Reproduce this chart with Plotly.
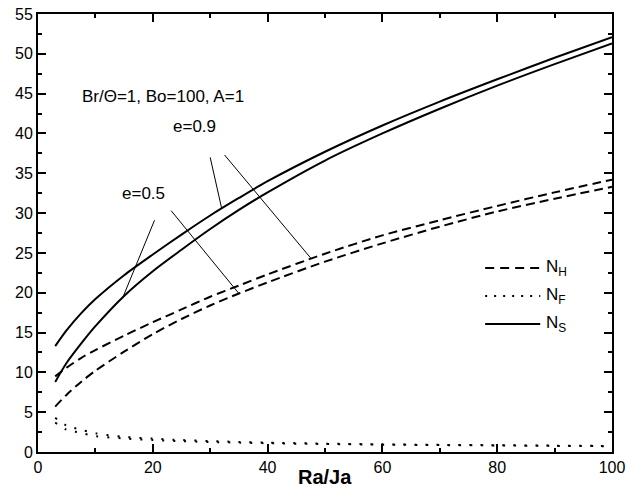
import numpy as np
import plotly.graph_objects as go

x = [3, 5, 7.5, 10, 15, 20, 25, 30, 35, 40, 50, 60, 70, 80, 90, 100]

ns_e09 = [13.3, 15.3, 17.4, 19.2, 22.2, 24.8, 27.3, 29.7, 31.9, 34.0, 37.7, 41.0, 44.0, 46.8, 49.5, 52.1]
ns_e05 = [8.8, 11.2, 13.6, 15.8, 19.6, 22.7, 25.4, 28.0, 30.4, 32.6, 36.6, 40.0, 43.1, 46.0, 48.7, 51.3]
nh_e09 = [9.5, 10.6, 11.8, 12.8, 14.6, 16.3, 17.9, 19.5, 20.9, 22.3, 24.9, 27.2, 29.1, 30.9, 32.6, 34.2]
nh_e05 = [5.7, 7.2, 8.8, 10.2, 12.6, 14.8, 16.7, 18.4, 19.9, 21.3, 23.9, 26.2, 28.3, 30.2, 31.8, 33.3]
nf_e09 = [4.3, 3.3, 2.8, 2.35, 1.9, 1.68, 1.5, 1.37, 1.27, 1.18, 1.05, 0.96, 0.9, 0.85, 0.8, 0.76]
nf_e05 = [3.7, 2.8, 2.4, 2.0, 1.7, 1.5, 1.36, 1.26, 1.18, 1.1, 1.0, 0.92, 0.87, 0.82, 0.77, 0.73]

x_ticks = [0, 20, 40, 60, 80, 100]
y_ticks = list(range(0, 60, 5))

legend_names = ["N<sub>H</sub>", "N<sub>F</sub>", "N<sub>S</sub>"]

DASH = "9px,5px"
DOT = "2px,9px"
FAM = "Liberation Sans, Arial, sans-serif"

fig = go.Figure()
series = [
    (nh_e05, DASH), (nh_e09, DASH),
    (nf_e09, DOT), (nf_e05, DOT),
    (ns_e05, "solid"), (ns_e09, "solid"),
]
for ys, dash in series:
    fig.add_trace(go.Scatter(
        x=x, y=ys, mode="lines", showlegend=False, hoverinfo="skip",
        line=dict(color="black", width=2, dash=dash, shape="spline", smoothing=0.8),
    ))

def on(curve, xv):
    return float(np.interp(xv, x, curve))

leaders = [
    (30.0, 37.0, 32.0, on(ns_e09, 32.0)),
    (32.5, 37.3, 47.6, on(nh_e09, 47.6)),
    (20.3, 29.1, 14.8, on(ns_e05, 14.8)),
    (23.2, 30.3, 35.0, on(nh_e05, 35.0)),
]
shapes = [dict(type="line", xref="x", yref="y", x0=a, y0=b, x1=c, y1=d,
               line=dict(color="black", width=1)) for a, b, c, d in leaders]

annotations = [
    dict(x=27.3, y=40.9, xref="x", yref="y", text="e=0.9", showarrow=False,
         font=dict(family=FAM, size=17, color="black")),
    dict(x=18.4, y=32.4, xref="x", yref="y", text="e=0.5", showarrow=False,
         font=dict(family=FAM, size=17, color="black")),
    dict(x=7.3, y=44.6, xref="x", yref="y", text="Br/Θ=1, Bo=100, A=1", showarrow=False,
         xanchor="left", font=dict(family=FAM, size=17, color="black")),
    dict(x=0.5, y=-0.058, xref="paper", yref="paper", text="<b>Ra/Ja</b>", showarrow=False,
         xanchor="center", yanchor="middle", font=dict(family=FAM, size=20, color="black")),
]

# manual legend (paper coordinates)
leg_dash = ["9px,6px", "2px,7px", "solid"]
leg_y = [0.420, 0.356, 0.292]
for name, dsh, yy in zip(legend_names, leg_dash, leg_y):
    shapes.append(dict(type="line", xref="paper", yref="paper", x0=0.779, x1=0.875, y0=yy, y1=yy,
                       line=dict(color="black", width=2, dash=dsh)))
    annotations.append(dict(x=0.881, y=yy, xref="paper", yref="paper", text=name, showarrow=False,
                            xanchor="left", yanchor="middle",
                            font=dict(family=FAM, size=17, color="black")))

axis_common = dict(
    showline=True, linecolor="black", linewidth=2, mirror="ticks",
    ticks="inside", ticklen=8, tickwidth=1.5, tickcolor="black",
    showgrid=False, zeroline=False, automargin=False,
    tickfont=dict(family=FAM, size=16, color="black"),
)

fig.update_layout(
    width=627, height=492,
    margin=dict(l=38, r=15, t=14, b=40),
    paper_bgcolor="white", plot_bgcolor="white",
    shapes=shapes, annotations=annotations,
    xaxis=dict(range=[0, 100], tickvals=x_ticks,
               minor=dict(dtick=10, ticks="inside", ticklen=4, tickcolor="black", showgrid=False),
               **axis_common),
    yaxis=dict(range=[0, 55], tickvals=y_ticks,
               minor=dict(dtick=2.5, ticks="inside", ticklen=4, tickcolor="black", showgrid=False),
               **axis_common),
    showlegend=False,
)

fig.write_html("out.html")
